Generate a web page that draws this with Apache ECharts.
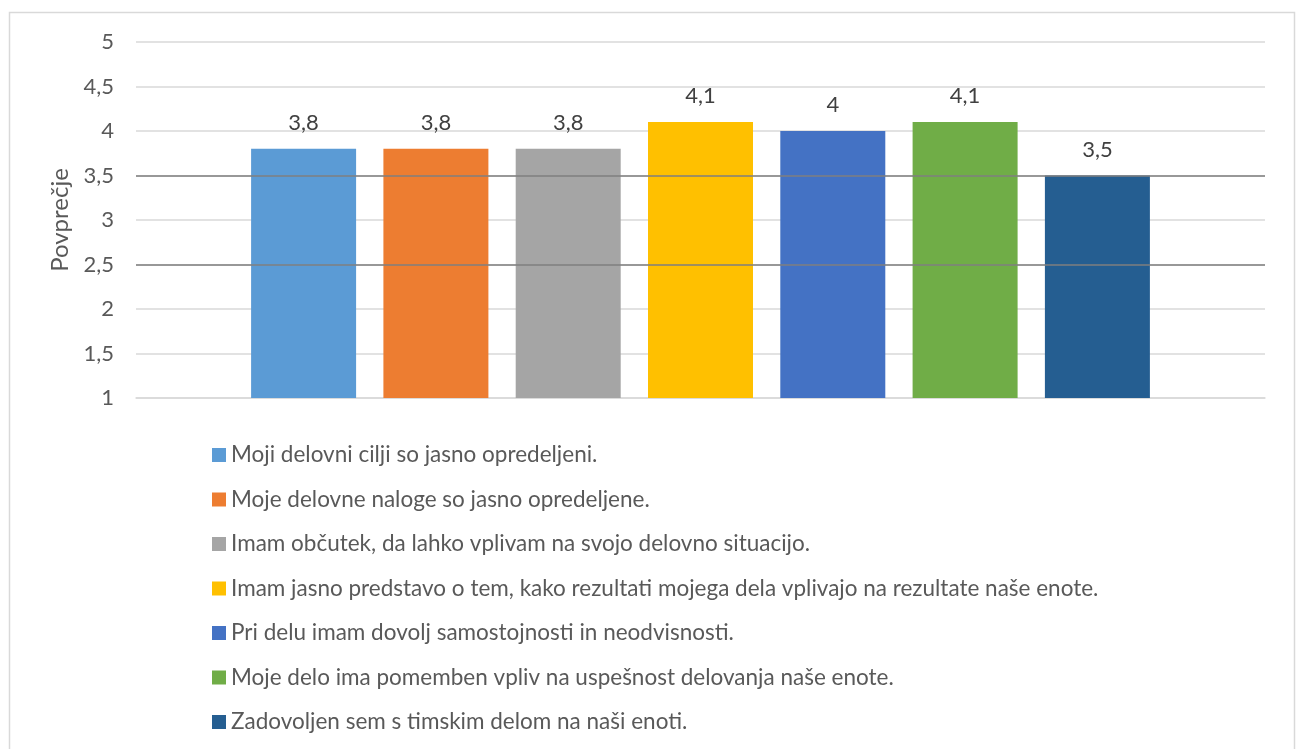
<!DOCTYPE html>
<html>
<head>
<meta charset="utf-8">
<script src="https://cdn.jsdelivr.net/npm/echarts@6/dist/echarts.min.js"></script>
<style>
html,body{margin:0;padding:0;background:#fff;}
#chart{width:1301px;height:749px;}
</style>
</head>
<body>
<div id="chart"></div>
<script>
// podatki
const categories = ['Povprečje'];
const seriesNames = [
	'Moji delovni cilji so jasno opredeljeni.',
	'Moje delovne naloge so jasno opredeljene.',
	'Imam občutek, da lahko vplivam na svojo delovno situacijo.',
	'Imam jasno predstavo o tem, kako rezultati mojega dela vplivajo na rezultate naše enote.',
	'Pri delu imam dovolj samostojnosti in neodvisnosti.',
	'Moje delo ima pomemben vpliv na uspešnost delovanja naše enote.',
	'Zadovoljen sem s timskim delom na naši enoti.'
];
const seriesValues = [3.8, 3.8, 3.8, 4.1, 4.0, 4.1, 3.5];
const refLines = [3.5, 2.5];
const yTicks = [1, 1.5, 2, 2.5, 3, 3.5, 4, 4.5, 5];

const colors = ['#5B9BD5','#ED7D31','#A5A5A5','#FFC000','#4472C4','#70AD47','#255E91'];
const fontName = 'Lato';

function comma(v){
	return (v + '').replace('.', ',');
}

function buildSeries(){
	let arr = [];
	seriesNames.forEach((name, i) => {
		let s = {
			name: name,
			type: 'bar',
			data: [seriesValues[i]],
			barWidth: 105,
			barGap: '26%',
			itemStyle: {color: colors[i]},
			label: {
				show: true,
				position: 'top',
				distance: 15,
				color: '#404040',
				fontSize: 22,
				fontFamily: fontName,
				formatter: (p) => comma(p.value)
			}
		};
		if(i === seriesNames.length - 1){
			s.markLine = {
				silent: true,
				symbol: 'none',
				label: {show: false},
				lineStyle: {color: '#7f7f7f', width: 1.5, type: 'solid'},
				data: refLines.map(v => ({yAxis: v}))
			};
		}
		arr.push(s);
	});
	return arr;
}

const myChart = echarts.init(document.getElementById('chart'));
myChart.setOption({
	animation: false,
	color: colors,
	textStyle: {fontFamily: fontName},
	graphic: [{
		type: 'rect',
		shape: {x: 9.5, y: 12.5, width: 1285, height: 760},
		style: {fill: 'none', stroke: '#d9d9d9', lineWidth: 1.5},
		silent: true
	}],
	grid: {left: 136, right: 36, top: 42, bottom: 351},
	legend: {
		orient: 'vertical',
		left: 207,
		top: 438,
		itemWidth: 14,
		itemHeight: 14,
		itemGap: 20.5,
		icon: 'rect',
		data: seriesNames,
		textStyle: {color: '#595959', fontSize: 22.5, lineHeight: 24, fontFamily: fontName}
	},
	xAxis: {
		type: 'category',
		data: categories,
		axisLabel: {show: false},
		axisTick: {show: false},
		axisLine: {show: true, lineStyle: {color: '#d9d9d9', width: 1.5}}
	},
	yAxis: {
		type: 'value',
		min: 1,
		max: 5,
		interval: 0.5,
		name: 'Povprečje',
		nameLocation: 'middle',
		nameRotate: 90,
		nameGap: 63,
		nameTextStyle: {color: '#595959', fontSize: 24, fontFamily: fontName},
		axisLine: {show: false},
		axisTick: {show: false},
		axisLabel: {
			color: '#595959',
			fontSize: 22,
			fontFamily: fontName,
			margin: 22,
			formatter: (v) => yTicks.indexOf(v) > -1 ? comma(v) : ''
		},
		splitLine: {lineStyle: {color: '#d9d9d9', width: 1.5}}
	},
	series: buildSeries()
});
</script>
</body>
</html>
